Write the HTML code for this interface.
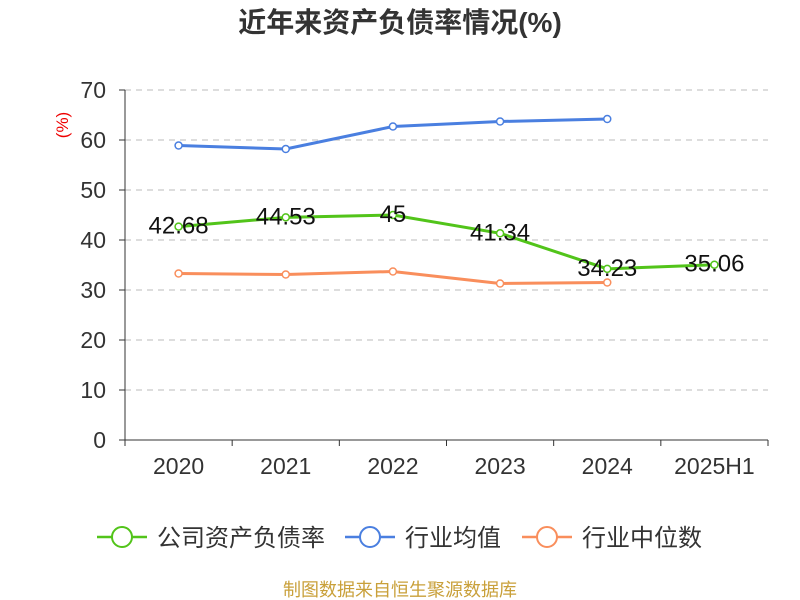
<!DOCTYPE html>
<html><head><meta charset="utf-8"><style>
body{margin:0;background:#fff;}
svg{display:block;font-family:"Liberation Sans","Noto Sans CJK SC",sans-serif;}
</style></head><body>
<svg id="c" width="800" height="600">
<text x="400" y="32" text-anchor="middle" font-size="28" font-weight="bold" fill="#333">近年来资产负债率情况(%)</text>
<text transform="translate(68,125) rotate(-90)" text-anchor="middle" font-size="17" fill="#e00">(%)</text>
<g id="grid"></g><g id="axes"></g><g id="series"></g>
<g>
<g><line x1="97" y1="537" x2="147" y2="537" stroke="#52c41a" stroke-width="2.5"/><circle cx="122" cy="537" r="10" fill="#fff" stroke="#52c41a" stroke-width="2"/><text x="157" y="546" font-size="24" fill="#333">公司资产负债率</text></g>
<g><line x1="345" y1="537" x2="395" y2="537" stroke="#4a7fe0" stroke-width="2.5"/><circle cx="370" cy="537" r="10" fill="#fff" stroke="#4a7fe0" stroke-width="2"/><text x="405" y="546" font-size="24" fill="#333">行业均值</text></g>
<g><line x1="522" y1="537" x2="572" y2="537" stroke="#f98e5c" stroke-width="2.5"/><circle cx="547" cy="537" r="10" fill="#fff" stroke="#f98e5c" stroke-width="2"/><text x="582" y="546" font-size="24" fill="#333">行业中位数</text></g>
</g>
<text x="400" y="596" text-anchor="middle" font-size="18" fill="#c9a03a">制图数据来自恒生聚源数据库</text>
</svg>
<script>
const categories=["2020","2021","2022","2023","2024","2025H1"];
const companyVals=[42.68,44.53,45,41.34,34.23,35.06];
const avgVals=[58.9,58.2,62.7,63.7,64.2];
const medianVals=[33.3,33.1,33.7,31.3,31.5];
const yTicks=[0,10,20,30,40,50,60,70];
const NS="http://www.w3.org/2000/svg";
const x0=125,x1=768,yb=440,yt=90,ymax=70;
const bw=(x1-x0)/categories.length;
const X=i=>x0+bw*(i+0.5);
const Y=v=>yb-(v/ymax)*(yb-yt);
function mk(t,a,p){const e=document.createElementNS(NS,t);for(const k in a)e.setAttribute(k,a[k]);p.appendChild(e);return e;}
const grid=document.getElementById('grid'),axes=document.getElementById('axes'),ser=document.getElementById('series');
yTicks.forEach(v=>{
 if(v>0){const g=mk('line',{x1:x0,x2:x1,y1:Y(v),y2:Y(v),stroke:'#bbb','stroke-dasharray':'6,5'},grid);
 
 }
 const tk=mk('line',{x1:x0-6,x2:x0,y1:Y(v),y2:Y(v),stroke:'#333'},axes);
 
 
 const t=mk('text',{x:x0-19,y:Y(v)+8,'text-anchor':'end','font-size':23,fill:'#333'},axes);t.textContent=v;
 
 
});
const ya=mk('line',{x1:x0,x2:x0,y1:yt,y2:yb,stroke:'#333'},axes);


const xa=mk('line',{x1:x0,x2:x1,y1:yb,y2:yb,stroke:'#333'},axes);


for(let i=0;i<=categories.length;i++){const l=mk('line',{x1:x0+bw*i,x2:x0+bw*i,y1:yb,y2:yb+6,stroke:'#333'},axes);
 
 }
categories.forEach((c,i)=>{const t=mk('text',{x:X(i),y:yb+34,'text-anchor':'middle','font-size':23,fill:'#333'},axes);t.textContent=c;
 
 });
function series(vals,color,name,labels){
 const g=mk('g',{},ser);
 
 
 const p=mk('polyline',{points:vals.map((v,i)=>X(i)+','+Y(v)).join(' '),fill:'none',stroke:color,'stroke-width':3},g);
 
 
 vals.forEach((v,i)=>{const c=mk('circle',{cx:X(i),cy:Y(v),r:3.5,fill:'#fff',stroke:color,'stroke-width':1.5},g);
  
  
  if(labels){const t=mk('text',{x:X(i),y:Y(v)+7,'text-anchor':'middle','font-size':24,fill:'#111'},g);t.textContent=v;
   
   }
 });
}
series(avgVals,'#4a7fe0','industry-avg-series',false);
series(medianVals,'#f98e5c','industry-median-series',false);
series(companyVals,'#52c41a','company-series',true);
</script>
</body></html>
